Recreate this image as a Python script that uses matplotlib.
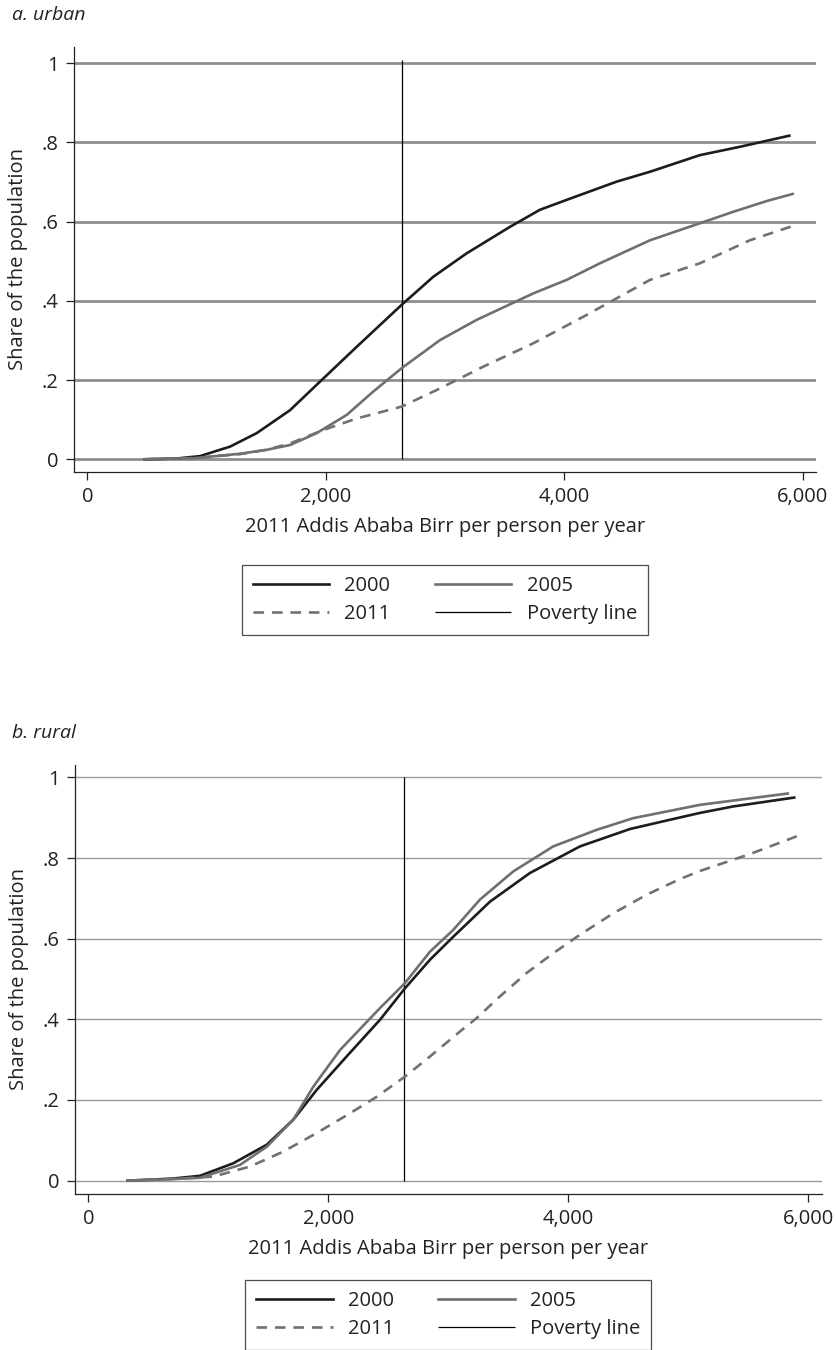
import numpy as np
import matplotlib
matplotlib.use("Agg")
import matplotlib.pyplot as plt

plt.rcParams["font.family"] = ["Open Sans", "DejaVu Sans"]

# poverty line, 2011 Addis Ababa Birr per person per year
poverty_line = 2635

# a. urban: cumulative distributions
urb_x_2000 = [480, 750, 945, 1197, 1420, 1700, 1951, 2259, 2636, 2902, 3181, 3545, 3796,
              4020, 4439, 4719, 5138, 5473, 5887]
urb_y_2000 = [0.0, 0.002, 0.008, 0.032, 0.066, 0.124, 0.196, 0.284, 0.39, 0.461, 0.52, 0.587,
              0.63, 0.655, 0.701, 0.726, 0.768, 0.789, 0.817]
urb_x_2005 = [480, 900, 1281, 1504, 1700, 1923, 2175, 2398, 2636, 2958, 3265, 3741, 4020,
              4300, 4719, 5138, 5418, 5697, 5915]
urb_y_2005 = [0.0, 0.003, 0.014, 0.024, 0.036, 0.066, 0.112, 0.171, 0.23, 0.301, 0.352,
              0.419, 0.453, 0.495, 0.553, 0.596, 0.625, 0.652, 0.67]
urb_x_2011 = [480, 900, 1281, 1504, 1700, 1979, 2259, 2636, 2958, 3321, 3741, 4160, 4719,
              5138, 5557, 5915]
urb_y_2011 = [0.0, 0.003, 0.013, 0.024, 0.04, 0.074, 0.103, 0.133, 0.179, 0.234, 0.293,
              0.36, 0.453, 0.495, 0.553, 0.589]

# b. rural
rur_x_2000 = [328, 700, 931, 1208, 1487, 1708, 1903, 2153, 2431, 2639, 2848, 3042, 3348,
              3681, 4098, 4514, 4848, 5098, 5375, 5883]
rur_y_2000 = [0.0, 0.005, 0.012, 0.043, 0.089, 0.151, 0.225, 0.308, 0.399, 0.477, 0.548,
              0.605, 0.692, 0.763, 0.829, 0.872, 0.895, 0.912, 0.928, 0.95]
rur_x_2005 = [328, 700, 931, 1264, 1487, 1708, 1875, 2098, 2431, 2639, 2848, 3042, 3264,
              3542, 3875, 4237, 4542, 5098, 5828]
rur_y_2005 = [0.0, 0.004, 0.007, 0.039, 0.084, 0.151, 0.233, 0.324, 0.428, 0.49, 0.568,
              0.622, 0.697, 0.767, 0.829, 0.87, 0.899, 0.932, 0.96]
rur_x_2011 = [328, 700, 1042, 1348, 1625, 1903, 2181, 2403, 2639, 2848, 3098, 3236, 3431,
              3653, 3875, 4098, 4375, 4653, 4931, 5098, 5514, 5958]
rur_y_2011 = [0.0, 0.004, 0.01, 0.035, 0.072, 0.118, 0.167, 0.208, 0.258, 0.308, 0.37, 0.403,
              0.457, 0.515, 0.564, 0.61, 0.663, 0.709, 0.748, 0.768, 0.81, 0.86]

x_ticks = [0, 2000, 4000, 6000]
x_ticklabels = ["0", "2,000", "4,000", "6,000"]
y_ticks = [0, 0.2, 0.4, 0.6, 0.8, 1]
y_ticklabels = ["0", ".2", ".4", ".6", ".8", "1"]

FS = 14.5
c_2000 = "#1c1c1c"
c_2005 = "#6f6f6f"
c_2011 = "#717171"

fig = plt.figure(figsize=(8.36, 13.5), dpi=100)


def panel(rect, xs, ys, grid_lw, grid_col, pov_top, xlim, ylim):
    ax = fig.add_axes(rect)
    for y in y_ticks:
        ax.axhline(y, color=grid_col, lw=grid_lw, zorder=1)
    l1, = ax.plot(xs[0], ys[0], color=c_2000, lw=1.9, zorder=3)
    l2, = ax.plot(xs[1], ys[1], color=c_2005, lw=1.9, zorder=3)
    l3, = ax.plot(xs[2], ys[2], color=c_2011, lw=1.9, ls=(0, (4, 3)), zorder=3)
    l4 = ax.vlines(poverty_line, 0, pov_top, color="black", lw=0.9, zorder=2)
    ax.set_xlim(*xlim)
    ax.set_ylim(*ylim)
    ax.set_xticks(x_ticks)
    ax.set_xticklabels(x_ticklabels)
    ax.set_yticks(y_ticks)
    ax.set_yticklabels(y_ticklabels)
    ax.tick_params(labelsize=FS, length=6, width=0.9, colors="#222222", pad=5)
    ax.spines["top"].set_visible(False)
    ax.spines["right"].set_visible(False)
    for s in ["left", "bottom"]:
        ax.spines[s].set_linewidth(0.9)
        ax.spines[s].set_color("#222222")
    ax.set_xlabel("2011 Addis Ababa Birr per person per year", fontsize=FS, color="#222222", labelpad=7)
    ax.set_ylabel("Share of the population", fontsize=FS, color="#222222", labelpad=10)
    return ax, [l1, l3, l2, l4]


ax1, h1 = panel([0.0885, 0.6504, 0.8876, 0.3148],
                [urb_x_2000, urb_x_2005, urb_x_2011], [urb_y_2000, urb_y_2005, urb_y_2011],
                2.0, "#8e8e8e", 1.008, (-112, 6111), (-0.032, 1.041))
ax2, h2 = panel([0.0897, 0.1156, 0.8932, 0.3178],
                [rur_x_2000, rur_x_2005, rur_x_2011], [rur_y_2000, rur_y_2005, rur_y_2011],
                1.0, "#9a9a9a", 1.0, (-111, 6112), (-0.033, 1.031))

labels = ["2000", "2011", "2005", "Poverty line"]
for handles, anchor in [(h1, (0.532, 1 - 565 / 1350)), (h2, (0.536, 1 - 1280 / 1350))]:
    leg = fig.legend(handles, labels, ncol=2, loc="upper center", bbox_to_anchor=anchor,
                     fontsize=FS, frameon=True, fancybox=False, edgecolor="#222222",
                     handlelength=3.8, handletextpad=0.75, columnspacing=2.2,
                     labelspacing=0.4, borderpad=0.55, borderaxespad=0)
    leg.get_frame().set_linewidth(0.9)
    for t in leg.get_texts():
        t.set_color("#222222")

fig.text(12 / 836, 1 - 15 / 1350, "a. urban", fontsize=14, style="italic", va="center", color="#222222")
fig.text(12 / 836, 1 - 733 / 1350, "b. rural", fontsize=14, style="italic", va="center", color="#222222")

fig.savefig("out.png", dpi=100)
